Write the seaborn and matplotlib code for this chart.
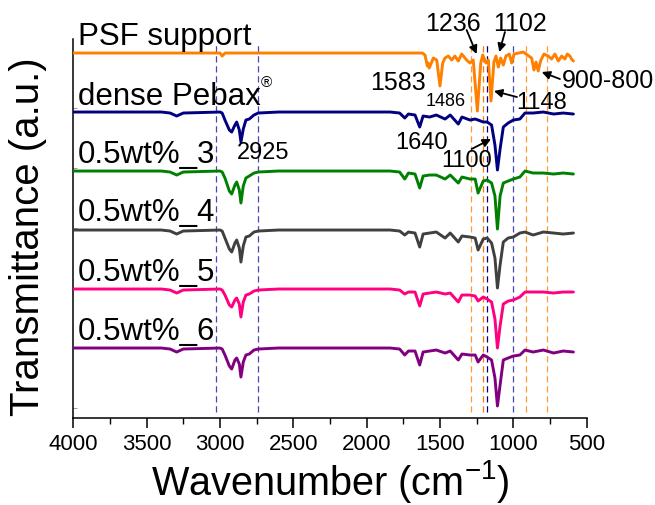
import numpy as np
import pandas as pd
import matplotlib
matplotlib.use("Agg")
import matplotlib.pyplot as plt
import seaborn as sns

# ------------------------------------------------------------------ data
sample_names = ["PSF support", "dense Pebax", "0.5wt%_3", "0.5wt%_4", "0.5wt%_5", "0.5wt%_6"]
line_colors = ["#FF8000", "#000080", "#008000", "#404040", "#FF0080", "#800080"]
stack_offsets = [295, 236, 177, 118, 59, 0]

psf_wavenumber = [4000, 3050, 3000, 2985, 2965, 1620, 1602, 1586, 1580, 1573,
                  1545, 1522, 1500, 1481, 1466, 1443, 1420, 1398, 1375, 1352,
                  1318, 1295, 1273, 1245, 1222, 1208, 1186, 1170, 1152, 1132,
                  1118, 1102, 1086, 1068, 1050, 1027, 1011, 995, 932, 875,
                  859, 845, 830, 814, 791, 762, 739, 716, 693, 670,
                  648, 632, 614, 603, 590]
psf_signal = [0, 0, 0, -3, 0, 0, -2, -13, -10, -15,
              -5, -7, -33, -10, -5, -3, -7, -3, -8, -1,
              -7, -10, -7, -58, -10, -2, -10, -7, -48, -9,
              -3, -14, -5, -12, -3, -1, -10, -1, 1, -5,
              -17, -9, -18, -8, -1, -3, -6, -1, -8, -3,
              -6, -1, -3, -6, -8]

pebax_wavenumber = [4000, 3400, 3340, 3295, 3250, 3000, 2985, 2966, 2936, 2920,
                    2898, 2886, 2868, 2857, 2841, 2823, 2800, 2768, 2739, 2600,
                    1840, 1775, 1740, 1715, 1670, 1638, 1615, 1570, 1525, 1465,
                    1430, 1375, 1350, 1295, 1260, 1240, 1205, 1178, 1148, 1125,
                    1108, 1090, 1068, 1035, 1000, 955, 920, 865, 795, 725,
                    660, 590]
dense_pebax = [0, 0, -1, -4, -1, 0, -1, -8, -18, -20,
               -13, -10, -18, -30, -17, -8, -7, -3, -1, 0,
               0, -1, -6, -2, -3, -15, -4, -5, -3, -7,
               -3, -12, -5, -8, -7, -8, -10, -10, -13, -33,
               -58, -37, -15, -11, -8, -7, -1, -1, 0, -2,
               -1, -2]
wt05_3 = [0, 0, -1, -4, -1, 0, -1, -7, -20, -23,
          -14, -11, -19, -32, -15, -7, -5, -2, -1, 0,
          0, -1, -8, -2, -3, -17, -5, -4, -4, -8,
          -4, -12, -6, -8, -8, -22, -10, -9, -12, -25,
          -58, -25, -12, -10, -8, -6, 0, -2, -2, -3,
          -2, -3]
wt05_4 = [0, 0, -1, -4, -1, 0, -1, -8, -19, -22,
          -13, -10, -18, -32, -16, -7, -6, -2, -1, 0,
          0, -1, -5, -2, -3, -17, -4, -3, -2, -8,
          -3, -12, -6, -7, -8, -20, -9, -8, -13, -28,
          -58, -35, -12, -8, -7, -3, -2, -5, -2, -3,
          -4, -3]
wt05_5 = [0, 0, -1, -4, -1, 0, -1, -6, -16, -18,
          -11, -9, -15, -28, -13, -6, -5, -2, -1, 0,
          0, -1, -5, -3, -3, -17, -5, -4, -3, -5,
          -4, -13, -6, -6, -7, -12, -8, -10, -13, -30,
          -59, -37, -15, -12, -11, -8, -3, -3, -3, -4,
          -3, -3]
wt05_6 = [0, 0, -1, -4, -1, 0, -1, -7, -18, -21,
          -12, -10, -16, -29, -14, -7, -6, -2, -1, 0,
          0, -1, -7, -3, -3, -17, -4, -3, -2, -5,
          -3, -12, -6, -7, -7, -14, -7, -9, -12, -30,
          -58, -37, -12, -10, -8, -7, -2, -4, -2, -5,
          -3, -4]

# reference (dashed) lines, cm-1
blue_guides = [3025, 2740, 1000]
navy_guides = [1177]
orange_guides = [1290, 914, 773]
dark_orange_guides = [1208]

# ------------------------------------------------------------------ table
series = [(psf_wavenumber, psf_signal), (pebax_wavenumber, dense_pebax),
          (pebax_wavenumber, wt05_3), (pebax_wavenumber, wt05_4),
          (pebax_wavenumber, wt05_5), (pebax_wavenumber, wt05_6)]
frames = []
for name, off, (wn, sig) in zip(sample_names, stack_offsets, series):
    frames.append(pd.DataFrame({"wavenumber": wn,
                                "y": np.asarray(sig, float) + off,
                                "sample": name}))
df = pd.concat(frames, ignore_index=True)

# ------------------------------------------------------------------ style
sns.set_style("ticks")
plt.rcParams["font.family"] = ["Liberation Sans", "DejaVu Sans"]
plt.rcParams["mathtext.fontset"] = "custom"
plt.rcParams["mathtext.rm"] = "Liberation Sans"
plt.rcParams["mathtext.it"] = "Liberation Sans:italic"
plt.rcParams["mathtext.bf"] = "Liberation Sans:bold"
for k in ["text.color", "axes.labelcolor", "xtick.color", "ytick.color",
          "axes.edgecolor", "xtick.labelcolor", "ytick.labelcolor"]:
    plt.rcParams[k] = "black"

fig = plt.figure(figsize=(6.55, 5.06), dpi=100)
ax = fig.add_axes([0.1119, 0.1719, 0.7837, 0.749])

# dashed guides
for xs, col in [(blue_guides, "#4848B0"), (navy_guides, "#000080"),
                (orange_guides, "#FF9A3C"), (dark_orange_guides, "#FF7A00")]:
    for xv in xs:
        ax.axvline(xv, ymin=0.015, ymax=0.99, color=col, lw=0.9,
                   ls=(0, (5, 3)), zorder=1)

sns.lineplot(data=df, x="wavenumber", y="y", hue="sample",
             palette=dict(zip(sample_names, line_colors)),
             estimator=None, sort=False, legend=False, linewidth=2.1,
             ax=ax, zorder=3)

ax.set_xlim(4000, 500)
ax.set_ylim(-70, 309)
ax.set_xticks(np.arange(4000, 499, -500))
ax.set_xticks(np.arange(3750, 500, -500), minor=True)
ax.set_yticks(np.arange(-60, 300, 60))
ax.tick_params(axis="x", which="major", direction="out", length=7, width=1.1,
               labelsize=16, pad=3.5, colors="black")
ax.tick_params(axis="x", which="minor", direction="out", length=4, width=1.0,
               colors="black")
ax.tick_params(axis="y", which="major", direction="in", length=3, width=0.6,
               labelleft=False, color="#888888")
for s in ["top", "right"]:
    ax.spines[s].set_visible(False)
for s in ["left", "bottom"]:
    ax.spines[s].set_linewidth(1.1)
    ax.spines[s].set_color("black")

ax.set_xlabel("Wavenumber (cm$^{-1}$)", fontsize=28.5, color="black")
ax.set_ylabel("Transmittance (a.u.)", fontsize=29, color="black")
ax.xaxis.set_label_coords(0.5, -0.104)
ax.yaxis.set_label_coords(-0.052, 0.48)

# sample labels
label_y = [304, 244, 186, 128, 68, 9]
for name, yv in zip(sample_names, label_y):
    ax.text(3968, yv, name, fontsize=22.5, ha="left", va="baseline")
ax.text(2722, 266, "®", fontsize=11, ha="left", va="center")

# peak annotations
ax.text(1411, 325, "1236", fontsize=18, ha="center", va="center")
ax.text(954, 325, "1102", fontsize=18, ha="center", va="center")
ax.text(1786, 266, "1583", fontsize=18, ha="center", va="center")
ax.text(1459, 248, "1486", fontsize=13, ha="center", va="center")
ax.text(670, 268, "900-800", fontsize=18, ha="left", va="center")
ax.text(806, 246, "1148", fontsize=17, ha="center", va="center")
ax.text(1626, 206, "1640", fontsize=17, ha="center", va="center")
ax.text(1318, 188, "1100", fontsize=17, ha="center", va="center")
ax.text(2703, 196, "2925", fontsize=17, ha="center", va="center")

arrows = [((1318, 318), (1250, 294)), ((1057, 316), (1095, 296)),
          ((975, 251), (1132, 257)), ((682, 269), (806, 276)),
          ((1284, 199), (1152, 209))]
for tail, tip in arrows:
    ax.annotate("", xy=tip, xytext=tail,
                arrowprops=dict(arrowstyle="-|>", color="black", lw=1.3,
                                mutation_scale=12, shrinkA=0, shrinkB=0),
                annotation_clip=False)

fig.savefig("out.png", dpi=100)
